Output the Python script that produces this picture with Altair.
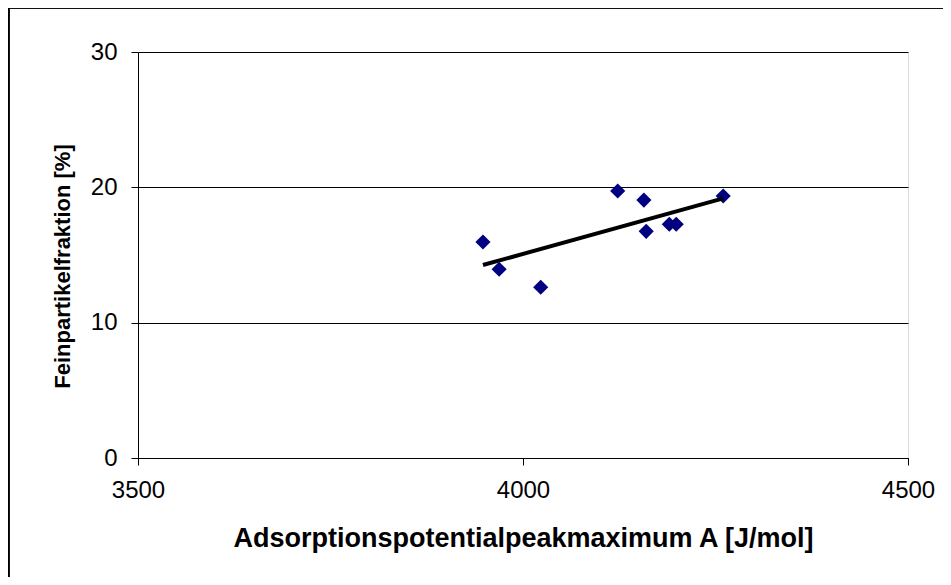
import altair as alt
import pandas as pd

# Data
adsorption_A = [3948, 3969, 4023, 4123, 4157, 4160, 4190, 4199, 4260]
fine_fraction = [15.96, 13.95, 12.62, 19.73, 19.06, 16.75, 17.27, 17.27, 19.36]

x_ticks = [3500, 4000, 4500]
y_ticks = [0, 10, 20, 30]

df = pd.DataFrame({"A": adsorption_A, "F": fine_fraction})

FONT = "Liberation Sans"
W, H = 770, 406

x_enc = alt.X(
    "A:Q",
    scale=alt.Scale(domain=[3500, 4500], nice=False, zero=False),
    axis=alt.Axis(
        values=x_ticks, format="d", title="Adsorptionspotentialpeakmaximum A [J/mol]",
        grid=False, domainColor="black", tickColor="black", tickSize=7,
        labelFontSize=24, labelFont=FONT, labelColor="black", labelPadding=13,
        titleFont=FONT, titleFontSize=27, titleFontWeight="bold", titleColor="black",
        titlePadding=23, labelFlush=False,
    ),
)
y_enc = alt.Y(
    "F:Q",
    scale=alt.Scale(domain=[0, 30], nice=False),
    axis=alt.Axis(
        values=y_ticks, format="d", title="Feinpartikelfraktion [%]",
        grid=True, gridColor="black", gridWidth=1,
        domainColor="black", tickColor="black", tickSize=7,
        labelFontSize=24, labelFont=FONT, labelColor="black", labelPadding=14,
        titleFont=FONT, titleFontSize=22, titleFontWeight="bold", titleColor="black",
        titlePadding=16, titleY=214,
    ),
)

points = alt.Chart(df).mark_point(
    shape="diamond", filled=True, color="#000080", size=230, opacity=1
).encode(x=x_enc, y=y_enc)

trend = alt.Chart(df).transform_regression("A", "F").mark_line(
    color="black", strokeWidth=4
).encode(x="A:Q", y="F:Q")

border = alt.Chart(df).mark_rect(
    fill=None, stroke="black", strokeWidth=1.5
).encode(
    x=alt.value(-129.5), x2=alt.value(W + 200),
    y=alt.value(-44.5), y2=alt.value(H + 250),
)

chart = alt.layer(border, points, trend).properties(
    width=W, height=H,
    autosize=alt.AutoSizeParams(type="none"),
    padding={"left": 130, "top": 44, "right": 35, "bottom": 119},
).configure_view(stroke="#808080", strokeWidth=1.5).configure(background="white")

chart.save("out.html", embed_options={"renderer": "svg", "actions": False})
